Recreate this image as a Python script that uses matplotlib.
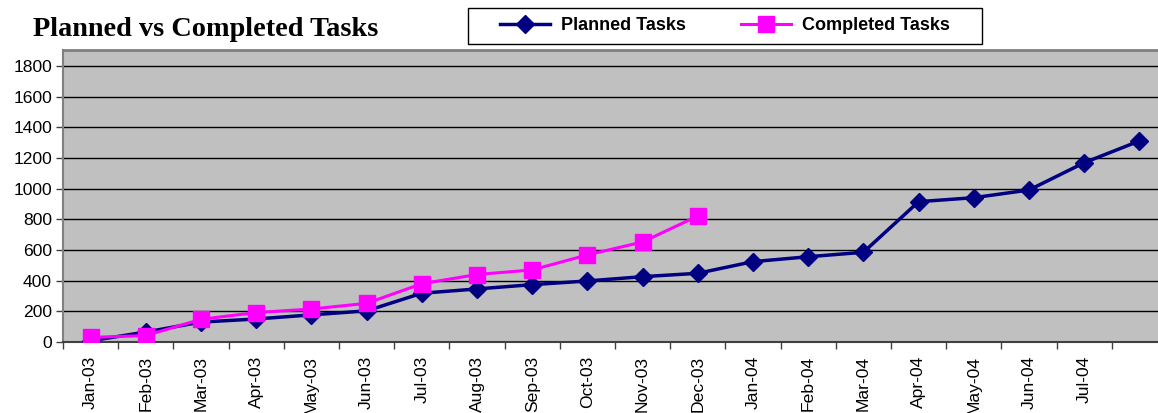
import numpy as np
import matplotlib
matplotlib.use("Agg")
import matplotlib.pyplot as plt
from matplotlib.patches import Rectangle

months = ["Jan-03", "Feb-03", "Mar-03", "Apr-03", "May-03", "Jun-03", "Jul-03",
          "Aug-03", "Sep-03", "Oct-03", "Nov-03", "Dec-03", "Jan-04", "Feb-04",
          "Mar-04", "Apr-04", "May-04", "Jun-04", "Jul-04", "Aug-04"]
# last category label is clipped off in the original
tick_labels = months[:-1] + [""]

planned = [8, 65, 130, 150, 177, 203, 318, 346, 374, 398, 426, 448,
           524, 556, 585, 915, 941, 991, 1169, 1311]
completed = [30, 42, 148, 192, 215, 252, 380, 440, 470, 568, 652, 822]

W, H = 1158, 413
fig = plt.figure(figsize=(W / 100, H / 100), dpi=100)
ax = fig.add_axes([63 / W, (H - 342) / H, 1104 / W, 292 / H])
ax.set_facecolor("#C0C0C0")

x = np.arange(len(months))
ax.plot(x, planned, color="#000080", lw=2.5, marker="D", ms=9,
        label="Planned Tasks", zorder=3)
ax.plot(x[:len(completed)], completed, color="#FF00FF", lw=2.2, marker="s",
        ms=11, label="Completed Tasks", zorder=4)

ax.set_xlim(-0.5, len(months) - 0.5)
ax.set_ylim(0, 1904)
ax.set_yticks(range(0, 1801, 200))
ax.yaxis.grid(True, color="black", lw=1)
ax.set_axisbelow(True)

ax.set_xticks(x)
ax.set_xticklabels(tick_labels, rotation=90, va="top", ha="center")
ax.set_xticks(np.arange(len(months) + 1) - 0.5, minor=True)
ax.tick_params(axis="x", which="major", length=0, pad=10, labelsize=12.6)
ax.tick_params(axis="x", which="minor", length=5, width=1, color="#404040")
ax.tick_params(axis="y", length=5, width=1, color="#404040", labelsize=12.6, pad=3)

for t in ax.get_xticklabels() + ax.get_yticklabels():
    t.set_fontfamily("Liberation Sans")

ax.spines["right"].set_visible(False)
ax.spines["top"].set_color("#808080")
ax.spines["top"].set_linewidth(2)
ax.spines["left"].set_color("#808080")
ax.spines["left"].set_linewidth(1.5)
ax.spines["bottom"].set_color("#404040")
ax.spines["bottom"].set_linewidth(1.5)

fig.text(33 / W, 1 - 30 / H, "Planned vs Completed Tasks", fontsize=20.3,
         fontweight="bold", fontfamily="Liberation Serif", va="center", ha="left")

# legend box drawn separately so the inner padding matches
fig.patches.append(Rectangle((468 / W, 1 - 44 / H), 514 / W, 36 / H,
                             transform=fig.transFigure, facecolor="white",
                             edgecolor="black", lw=1, zorder=1))
leg = fig.legend(loc="center", bbox_to_anchor=(725 / W, 1 - 26 / H), ncol=2,
                 frameon=False, handlelength=2.75, handletextpad=0.6,
                 columnspacing=3.1, borderpad=0.2,
                 prop={"family": "Liberation Sans", "weight": "bold", "size": 13})
leg.set_zorder(2)

fig.savefig("out.png", dpi=100)
